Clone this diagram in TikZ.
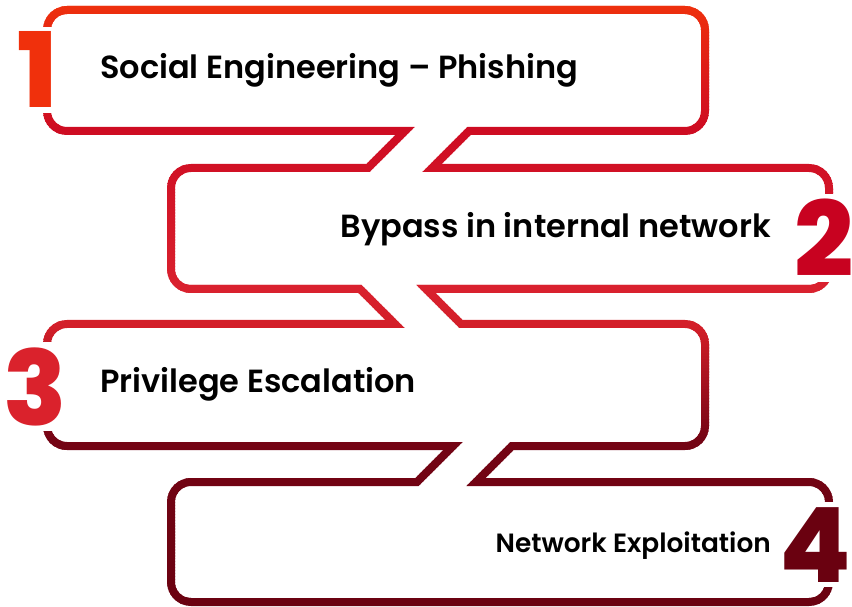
\documentclass[tikz,border=0pt]{standalone}
\usepackage{fontspec}
\setmainfont{Poppins}
\newfontfamily\popsemi{Poppins SemiBold}
\newfontfamily\popheavy{Poppins ExtraBold}
\usetikzlibrary{calc}
\definecolor{gradA}{RGB}{240,50,12}
\definecolor{gradB}{RGB}{206,12,34}
\definecolor{gradC}{RGB}{217,33,46}
\definecolor{gradD}{RGB}{210,30,40}
\definecolor{gradE}{RGB}{116,4,20}
\definecolor{gradF}{RGB}{107,2,17}
\definecolor{numonecolor}{RGB}{240,48,12}
\definecolor{numtwocolor}{RGB}{200,2,32}
\definecolor{numthreecolor}{RGB}{218,34,44}
\definecolor{numfourcolor}{RGB}{106,1,16}
\newcommand{\stepsoutline}{(67,596) -- (685,596) arc[start angle=90,end angle=0,radius=20pt]
  -- (705,495) arc[start angle=0,end angle=-90,radius=20pt] -- (469,475) -- (432,438)
  -- (809,438) arc[start angle=90,end angle=0,radius=20pt]
  -- (829,337) arc[start angle=0,end angle=-90,radius=20pt] -- (426,317) -- (461,282)
  -- (685,282) arc[start angle=90,end angle=0,radius=20pt]
  -- (705,180) arc[start angle=0,end angle=-90,radius=20pt] -- (512,160) -- (476,124)
  -- (809,124) arc[start angle=90,end angle=0,radius=20pt]
  -- (829,24) arc[start angle=0,end angle=-90,radius=20pt]
  -- (191,4) arc[start angle=270,end angle=180,radius=20pt]
  -- (171,104) arc[start angle=180,end angle=90,radius=20pt] -- (417,124) -- (453,160)
  -- (67,160) arc[start angle=270,end angle=180,radius=20pt]
  -- (47,262) arc[start angle=180,end angle=90,radius=20pt] -- (395,282) -- (360,317)
  -- (191,317) arc[start angle=270,end angle=180,radius=20pt]
  -- (171,418) arc[start angle=180,end angle=90,radius=20pt] -- (368,438) -- (405,475)
  -- (67,475) arc[start angle=270,end angle=180,radius=20pt]
  -- (47,576) arc[start angle=180,end angle=90,radius=20pt] -- cycle}
\tikzset{
steptext/.style={
  font=\popsemi\fontsize{32}{38}\selectfont,
  text=black,
  inner sep=0pt
},
smalltext/.style={
  steptext,
  font=\popsemi\fontsize{26.4}{32}\selectfont
},
stepnum/.style={
  font=\popheavy\fontsize{104}{120}\selectfont,
  fill=white,
  inner xsep=1pt,
  inner ysep=5pt
},
outlinestroke/.style={
  line width=8pt,
  line join=miter
}
}

\begin{document}
\begin{tikzpicture}[x=1pt,y=1pt]
  \useasboundingbox (0,0) rectangle (852,606);
  \foreach \ya/\yb/\ca/\cb in {0/130/gradA/gradB, 130/290/gradB/gradC, 290/330/gradC/gradD, 330/440/gradD/gradE, 440/606/gradE/gradF} {
    \pgfmathtruncatemacro{\nslice}{ceil((\yb-\ya)/3)}
    \pgfmathsetmacro{\hslice}{(\yb-\ya)/\nslice}
    \foreach \k in {1,...,\nslice} {
      \pgfmathsetmacro{\ytop}{606-\ya-(\k-1)*\hslice}
      \pgfmathsetmacro{\ybot}{\ytop-\hslice-0.4}
      \pgfmathtruncatemacro{\pct}{100-100*(\k-0.5)/\nslice}
      \colorlet{slicecolor}{\ca!\pct!\cb}
      \begin{scope}
        \clip (-5,\ybot) rectangle (860,\ytop);
        \draw[outlinestroke, draw=slicecolor] \stepsoutline;
      \end{scope}
    }
  }
  \node[steptext, anchor=base west] (phishing) at (100,527) {Social Engineering – Phishing};
  \node[steptext, anchor=base east] (bypass) at (771,368) {Bypass in internal network};
  \node[steptext, anchor=base west] (privesc) at (100,213) {Privilege Escalation};
  \node[smalltext, anchor=base east] (exploit) at (771,54) {Network Exploitation};
  \node[stepnum, text=numonecolor, anchor=base] (one) at (38,498) {1};
  \node[stepnum, text=numtwocolor, anchor=base] (two) at (824,329) {2};
  \node[stepnum, text=numthreecolor, anchor=base] (three) at (35.5,181) {3};
  \node[stepnum, text=numfourcolor, anchor=base] (four) at (815,24) {4};
\end{tikzpicture}
\end{document}
